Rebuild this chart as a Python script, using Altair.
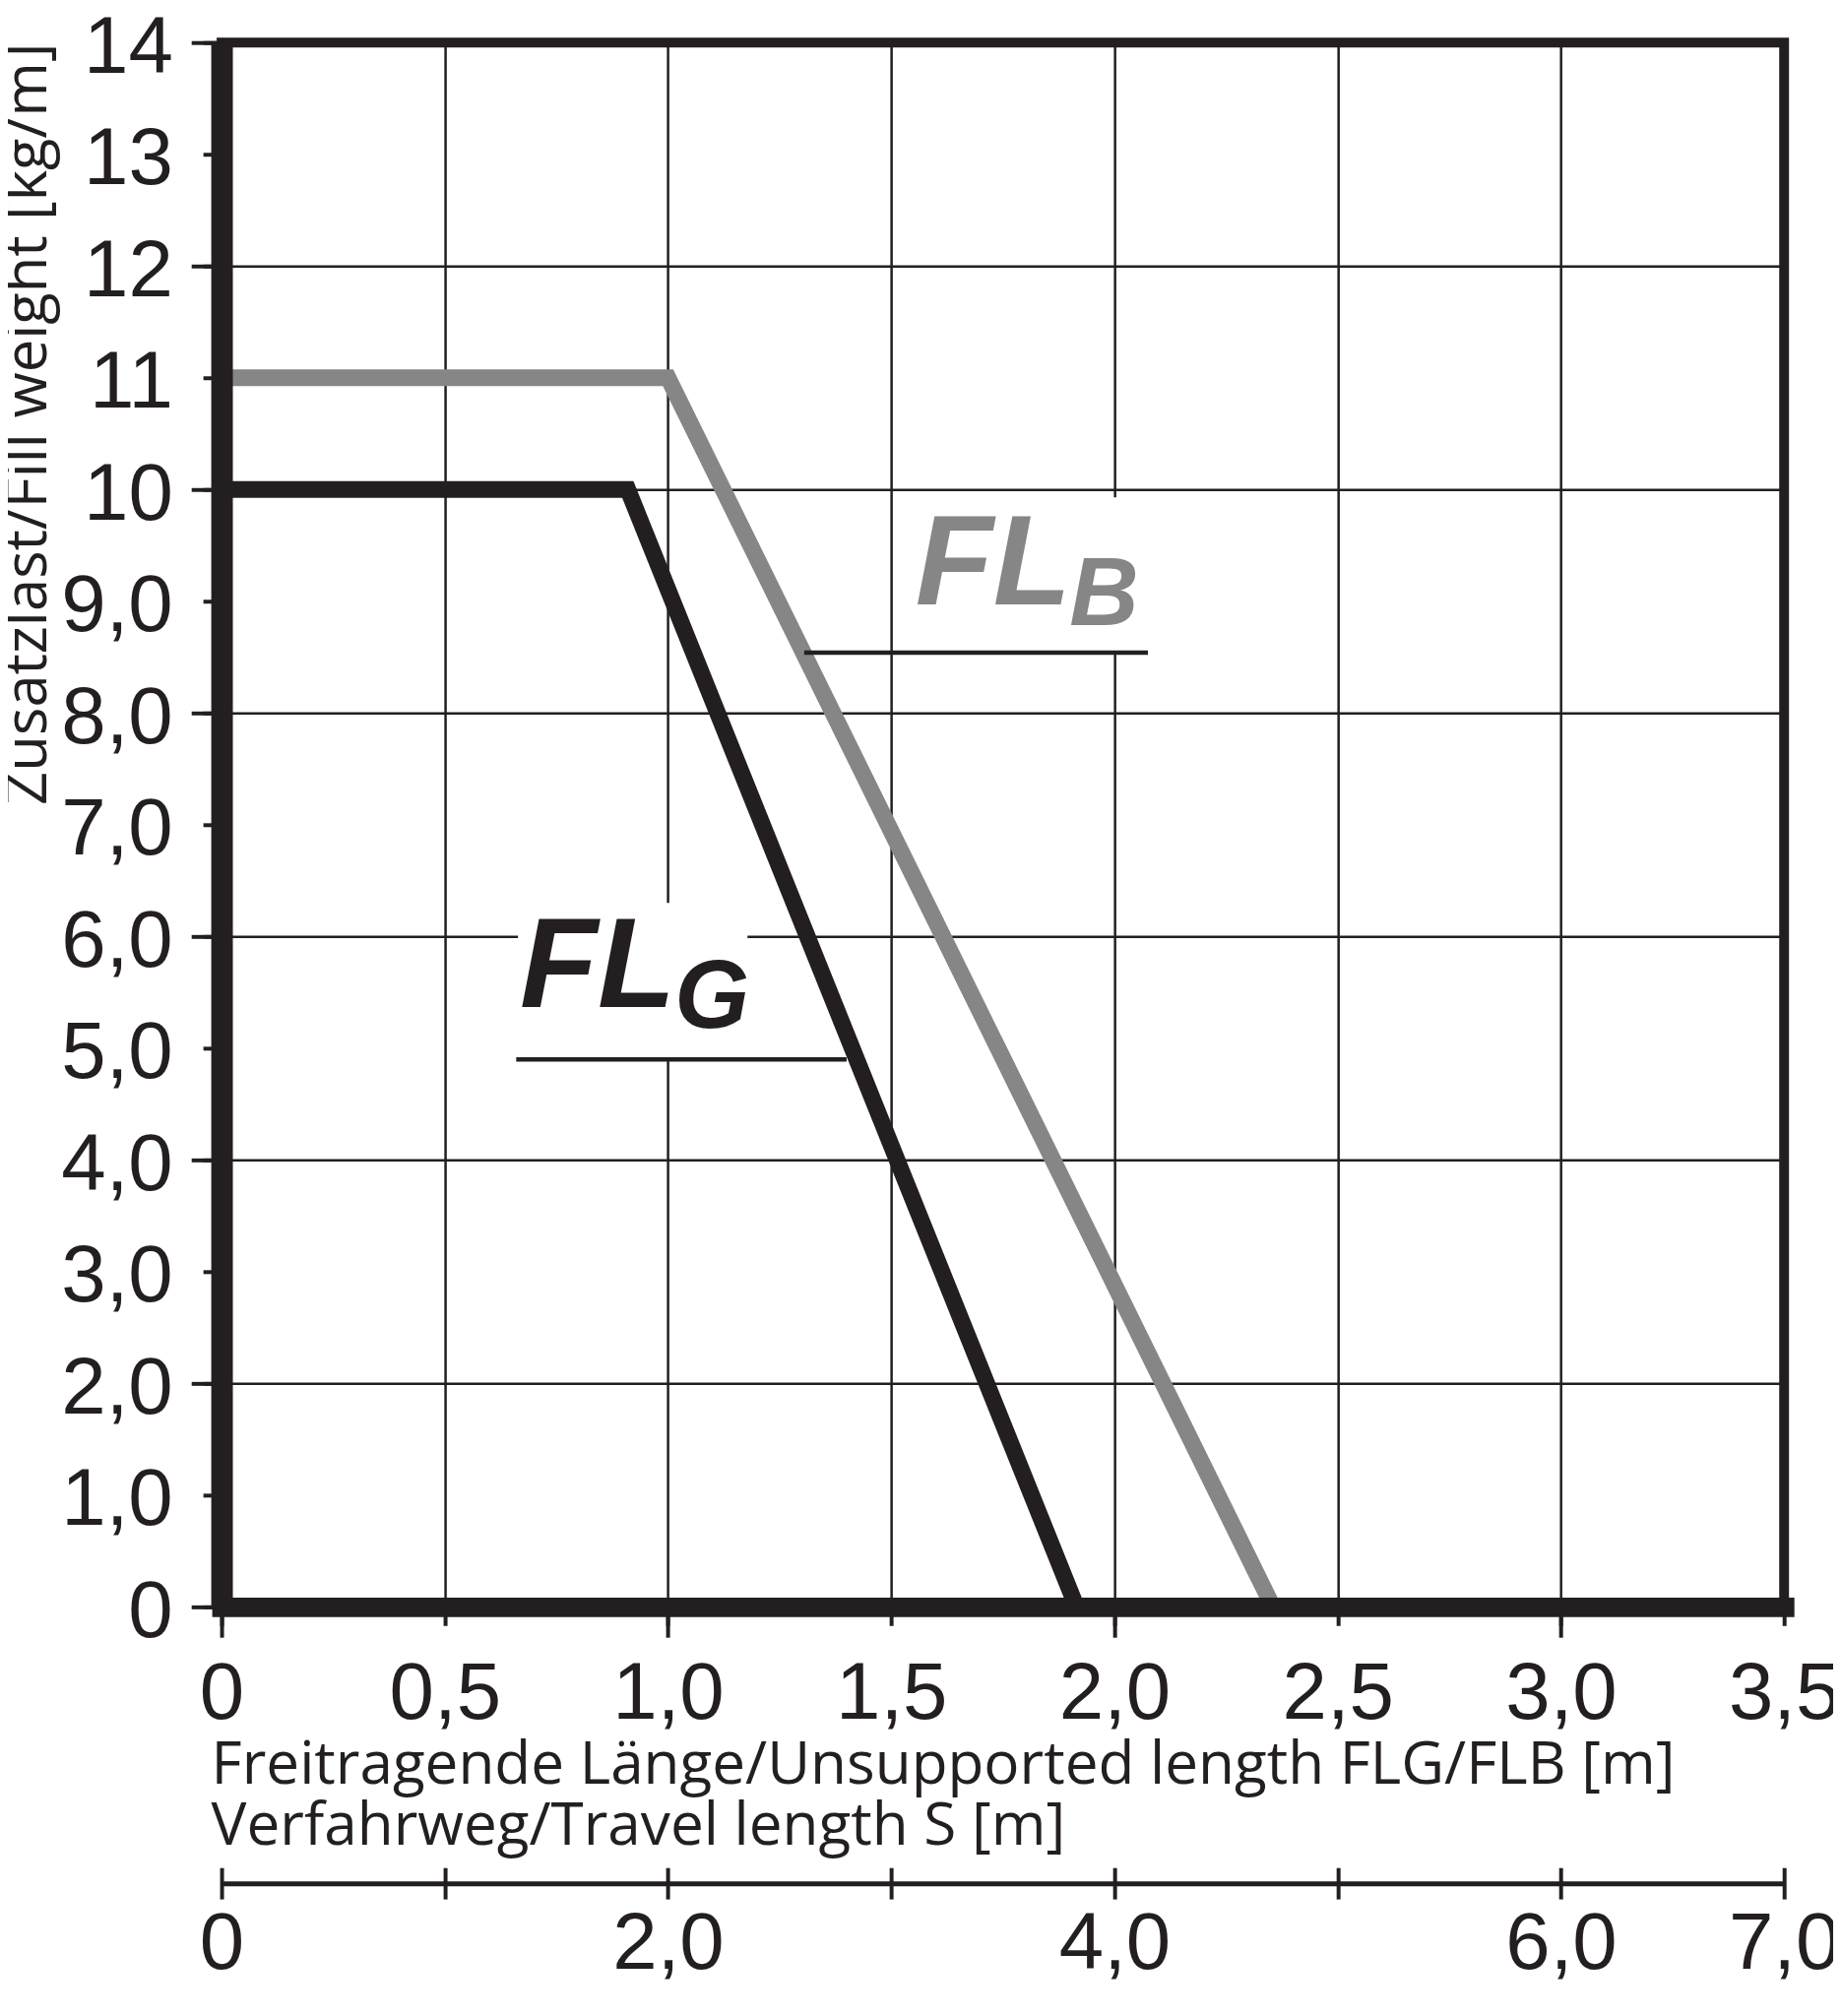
import altair as alt
import pandas as pd

INK = "#231f20"
GRAY = "#868686"

# ---------------- data ----------------
series = ["FLG", "FLB"]
flg_length = [0.0, 0.91, 1.915]
flg_weight = [10.0, 10.0, 0.0]
flb_length = [0.0, 1.0, 2.355]
flb_weight = [11.0, 11.0, 0.0]

x_ticks = [0.0, 0.5, 1.0, 1.5, 2.0, 2.5, 3.0, 3.5]
x_major_ticks = [0.0, 1.0, 2.0, 3.0]
y_ticks = list(range(0, 15))
y_major_ticks = list(range(0, 15, 2))
s_ticks = list(range(0, 8))

x_title = ["Freitragende Länge/Unsupported length FLG/FLB [m]",
           "Verfahrweg/Travel length S [m]"]
y_title = "Zusatzlast/Fill weight [kg/m]"

label_series = ["FLG", "FLB"]
label_main = ["FL", "FL"]
label_main_x = [0.668, 1.554]
label_main_y = [5.37, 8.97]
label_sub = ["G", "B"]
label_sub_x = [1.015, 1.899]
label_sub_y = [5.18, 8.79]

underline_x = [0.66, 1.305]
underline_x2 = [1.40, 2.075]
underline_y = [4.9, 8.54]

box_x = [0.664, 1.55]
box_x2 = [1.178, 2.10]
box_y = [4.9, 8.54]
box_y2 = [6.3, 9.93]

# ---------------- tables ----------------
curves_df = pd.DataFrame({
    "length": flg_length + flb_length,
    "weight": flg_weight + flb_weight,
    "series": ["FLG"] * len(flg_length) + ["FLB"] * len(flb_length),
    "order": list(range(len(flg_length))) + list(range(len(flb_length))),
})
main_lbl_df = pd.DataFrame({"x": label_main_x, "y": label_main_y, "text": label_main, "series": label_series})
sub_lbl_df = pd.DataFrame({"x": label_sub_x, "y": label_sub_y, "text": label_sub, "series": label_series})
underline_df = pd.DataFrame({"x": underline_x, "x2": underline_x2, "y": underline_y})
box_df = pd.DataFrame({"x": box_x, "x2": box_x2, "y": box_y, "y2": box_y2})
s_df = pd.DataFrame({"s": s_ticks})

xs = alt.Scale(domain=[0, 3.5], nice=False, zero=False)
ys = alt.Scale(domain=[0, 14], nice=False, zero=False)
ss = alt.Scale(domain=[0, 7], nice=False, zero=False)
cs = alt.Scale(domain=series, range=[INK, GRAY])

LABEL_FONT = "Liberation Sans"
TITLE_FONT = "Open Sans"

x_label_expr = "datum.value == 0 ? '0' : replace(format(datum.value, '.1f'), '.', ',')"
y_label_expr = ("datum.value == 0 ? '0' : (datum.value >= 10 ? format(datum.value, 'd') : "
                "replace(format(datum.value, '.1f'), '.', ','))")
s_label_expr = ("(datum.value % 2 == 1 && datum.value != 7) ? '' : "
                "(datum.value == 0 ? '0' : replace(format(datum.value, '.1f'), '.', ','))")

# grid layer (white boxes behind the curve labels hide parts of the grid)
boxes = alt.Chart(box_df).mark_rect(color="white").encode(
    x=alt.X("x:Q", scale=xs, axis=alt.Axis(
        orient="bottom", values=x_ticks, grid=True, gridColor=INK, gridWidth=2.5,
        ticks=False, labels=False, domain=False, title="")),
    x2="x2:Q",
    y=alt.Y("y:Q", scale=ys, axis=alt.Axis(
        orient="left", values=y_major_ticks, grid=True, gridColor=INK, gridWidth=2.5,
        ticks=False, labels=False, domain=False, title="")),
    y2="y2:Q",
)

# curves + long ticks
curves = alt.Chart(curves_df).mark_line(strokeWidth=17, strokeJoin="miter", strokeCap="butt").encode(
    x=alt.X("length:Q", scale=xs, axis=alt.Axis(
        orient="bottom", values=x_major_ticks, tickSize=31, tickWidth=4, tickColor=INK,
        labels=False, domain=False, grid=False, title="")),
    y=alt.Y("weight:Q", scale=ys, axis=alt.Axis(
        orient="left", values=y_major_ticks, tickSize=31, tickWidth=4, tickColor=INK,
        labels=False, domain=False, grid=False, title="")),
    color=alt.Color("series:N", scale=cs, legend=None),
    order="order:Q",
)

# underlines + main axes (short ticks, labels, borders, titles)
underlines = alt.Chart(underline_df).mark_rule(strokeWidth=4.5, color=INK).encode(
    x=alt.X("x:Q", scale=xs, axis=alt.Axis(
        orient="bottom", values=x_ticks, tickSize=19, tickWidth=4, tickColor=INK,
        domain=True, domainColor=INK, domainWidth=20, domainCap="square", grid=False,
        labelExpr=x_label_expr, labelFont=LABEL_FONT, labelFontSize=82, labelColor=INK,
        labelPadding=30, labelFlush=False, labelOverlap=False,
        title=x_title, titleFont=TITLE_FONT, titleFontSize=60.5, titleFontWeight="normal",
        titleColor=INK, titleAnchor="start", titleAlign="left", titleX=-11, titleY=180,
        titleBaseline="alphabetic", titleLineHeight=62, zindex=1)),
    x2="x2:Q",
    y=alt.Y("y:Q", scale=ys, axis=alt.Axis(
        orient="left", values=y_ticks, tickSize=19, tickWidth=4, tickColor=INK,
        domain=True, domainColor=INK, domainWidth=22, grid=False,
        labelExpr=y_label_expr, labelFont=LABEL_FONT, labelFontSize=82, labelColor=INK,
        labelPadding=31, labelOffset=5, labelFlush=False, labelOverlap=False,
        title=y_title, titleFont=TITLE_FONT, titleFontSize=60, titleFontWeight="normal",
        titleColor=INK, titleAnchor="end", titlePadding=2, zindex=1)),
)

text_main = alt.Chart(main_lbl_df).mark_text(
    font=LABEL_FONT, fontSize=130, fontWeight="bold", fontStyle="italic",
    align="left", baseline="alphabetic").encode(
    x=alt.X("x:Q", scale=xs, axis=None),
    y=alt.Y("y:Q", scale=ys, axis=None),
    text="text:N",
    color=alt.Color("series:N", scale=cs, legend=None),
)

text_sub = alt.Chart(sub_lbl_df).mark_text(
    font=LABEL_FONT, fontSize=98, fontWeight="bold", fontStyle="italic",
    align="left", baseline="alphabetic").encode(
    x=alt.X("x:Q", scale=xs, axis=None),
    y=alt.Y("y:Q", scale=ys, axis=None),
    text="text:N",
    color=alt.Color("series:N", scale=cs, legend=None),
)

# secondary scale: travel length S (0..7)
s_tick_layer = alt.Chart(s_df).mark_point(opacity=0).encode(
    x=alt.X("s:Q", scale=ss, axis=alt.Axis(
        orient="bottom", offset=266, values=s_ticks, tickSize=32, tickWidth=4, tickColor=INK,
        domain=False, labels=False, grid=False, title="")),
)
s_label_layer = alt.Chart(s_df).mark_point(opacity=0).encode(
    x=alt.X("s:Q", scale=ss, axis=alt.Axis(
        orient="bottom", offset=282, values=s_ticks, ticks=False, tickSize=0,
        domain=True, domainColor=INK, domainWidth=5, grid=False,
        labelExpr=s_label_expr, labelFont=LABEL_FONT, labelFontSize=82, labelColor=INK,
        labelPadding=22, labelFlush=False, labelOverlap=False, title="")),
)

chart = alt.layer(
    boxes, curves, underlines, text_main, text_sub, s_tick_layer, s_label_layer
).resolve_scale(
    x="independent"
).resolve_axis(
    x="independent", y="independent"
).properties(
    width=1594, height=1596,
    autosize=alt.AutoSizeParams(type="none"),
    padding={"left": 218, "top": 31, "right": 50, "bottom": 400},
    background="white",
).configure_view(
    stroke=INK, strokeWidth=10
)

chart.save("out.html", embed_options={"renderer": "svg", "actions": False})
